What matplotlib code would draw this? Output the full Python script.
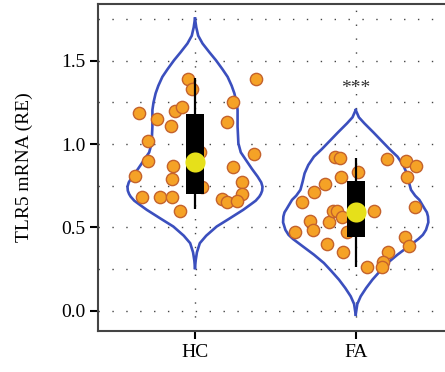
import numpy as np
import matplotlib
matplotlib.use('Agg')
import matplotlib.pyplot as plt

plt.rcParams['font.family'] = ['Liberation Serif', 'DejaVu Serif']

# groups
groups = ['HC', 'FA']
positions = [0, 1]

# violin outlines: (value, half width)
hc_vy = [1.753, 1.70, 1.65, 1.603, 1.55, 1.503, 1.45, 1.403, 1.35, 1.304, 1.25, 1.204,
         1.104, 1.004, 0.95, 0.904, 0.85, 0.804, 0.77, 0.744, 0.72, 0.70, 0.684, 0.66,
         0.64, 0.605, 0.55, 0.505, 0.45, 0.405, 0.35, 0.30, 0.256]
hc_vw = [0, 0.008, 0.02, 0.047, 0.09, 0.13, 0.17, 0.203, 0.228, 0.245, 0.258, 0.265,
         0.265, 0.27, 0.285, 0.317, 0.355, 0.39, 0.412, 0.42, 0.418, 0.41, 0.40, 0.378,
         0.35, 0.30, 0.21, 0.135, 0.07, 0.03, 0.012, 0.004, 0]
fa_vy = [1.204, 1.16, 1.124, 1.07, 1.024, 0.97, 0.924, 0.874, 0.824, 0.775, 0.725, 0.69,
         0.665, 0.61, 0.59, 0.565, 0.53, 0.485, 0.455, 0.43, 0.385, 0.336, 0.286, 0.236,
         0.186, 0.136, 0.086, 0.04, -0.024]
fa_vw = [0, 0.02, 0.054, 0.11, 0.156, 0.21, 0.26, 0.295, 0.318, 0.33, 0.344, 0.37,
         0.396, 0.43, 0.443, 0.45, 0.452, 0.4375, 0.418, 0.39, 0.328, 0.26, 0.198, 0.15,
         0.104, 0.065, 0.031, 0.01, 0]

# individual samples: horizontal jitter offset and value
hc_dx = [-0.348, -0.044, -0.019, -0.236, -0.124, -0.081, -0.149, 0.236, 0.199, -0.292,
         -0.292, -0.373, -0.137, -0.143, 0.367, 0.031, 0.236, 0.292, 0.292, -0.330,
         -0.218, -0.143, -0.093, 0.168, 0.199, 0.261, 0.044, 0.380]
hc_y = [1.186, 1.39, 1.33, 1.15, 1.20, 1.22, 1.11, 1.25, 1.13, 1.02,
        0.90, 0.81, 0.87, 0.79, 0.94, 0.95, 0.86, 0.77, 0.70, 0.68,
        0.68, 0.68, 0.60, 0.67, 0.65, 0.66, 0.74, 1.39]
fa_dx = [-0.334, -0.259, -0.191, -0.129, -0.098, -0.091, 0.014, -0.284, -0.266, -0.378,
         -0.166, -0.141, -0.116, -0.085, -0.179, -0.079, -0.054, 0.114, 0.194, 0.313,
         0.375, 0.319, 0.369, 0.307, 0.332, 0.200, 0.169, 0.163, 0.070]
fa_y = [0.65, 0.71, 0.76, 0.92, 0.915, 0.80, 0.83, 0.54, 0.485, 0.47,
        0.53, 0.60, 0.60, 0.56, 0.40, 0.35, 0.47, 0.60, 0.91, 0.90,
        0.87, 0.80, 0.62, 0.44, 0.39, 0.35, 0.29, 0.26, 0.26]

# box summary
q1 = [0.70, 0.44]
q3 = [1.18, 0.78]
wlo = [0.61, 0.265]
whi = [1.395, 0.915]
med = [0.89, 0.59]

fig = plt.figure(figsize=(4.45, 3.72), dpi=100)
ax = fig.add_axes([0.2202, 0.1102, 0.8135, 0.879])

violet = '#3b4fbe'
for p, vy, vw in [(0, hc_vy, hc_vw), (1, fa_vy, fa_vw)]:
    vy = np.array(vy)
    vw = np.array(vw)
    ax.plot(p - vw, vy, color=violet, lw=1.9, zorder=2, solid_joinstyle='round')
    ax.plot(p + vw, vy, color=violet, lw=1.9, zorder=2, solid_joinstyle='round')

for p, dx, y in [(0, hc_dx, hc_y), (1, fa_dx, fa_y)]:
    ax.scatter(p + np.array(dx), y, s=78, color='#f5a226', edgecolor='#c4622c',
               linewidth=1, zorder=3)

ax.vlines(positions, wlo, whi, color='black', lw=1.6, zorder=4)
ax.bar(positions, np.array(q3) - np.array(q1), bottom=q1, width=0.11,
       color='black', zorder=5)
ax.scatter(positions, med, s=210, color='#e6e01a', zorder=6, linewidth=0)

ax.text(1, 1.335, '***', ha='center', va='center', fontsize=14, color='#333333')

ax.set_xlim(-0.6036, 1.649)
ax.set_ylim(-0.122, 1.84)
ax.set_xticks(positions)
ax.set_xticklabels(groups)
ax.set_yticks([0, 0.5, 1.0, 1.5])
ax.set_yticklabels(['0.0', '0.5', '1.0', '1.5'])
ax.set_yticks([0.25, 0.75, 1.25, 1.75], minor=True)
ax.tick_params(which='major', length=6, width=1.5, labelsize=14, color='black', pad=3)
ax.tick_params(which='minor', length=0)
ax.set_ylabel('TLR5 mRNA (RE)', fontsize=14, labelpad=20)

ax.grid(True, which='both', axis='y', linestyle=(0, (1, 9)), lw=1, color='#444444')
ax.grid(True, which='major', axis='x', linestyle=(0, (1, 9)), lw=1, color='#444444')
ax.set_axisbelow(True)

for s in ax.spines.values():
    s.set_color('#444444')
    s.set_linewidth(1.5)

fig.savefig('out.png', dpi=100)
